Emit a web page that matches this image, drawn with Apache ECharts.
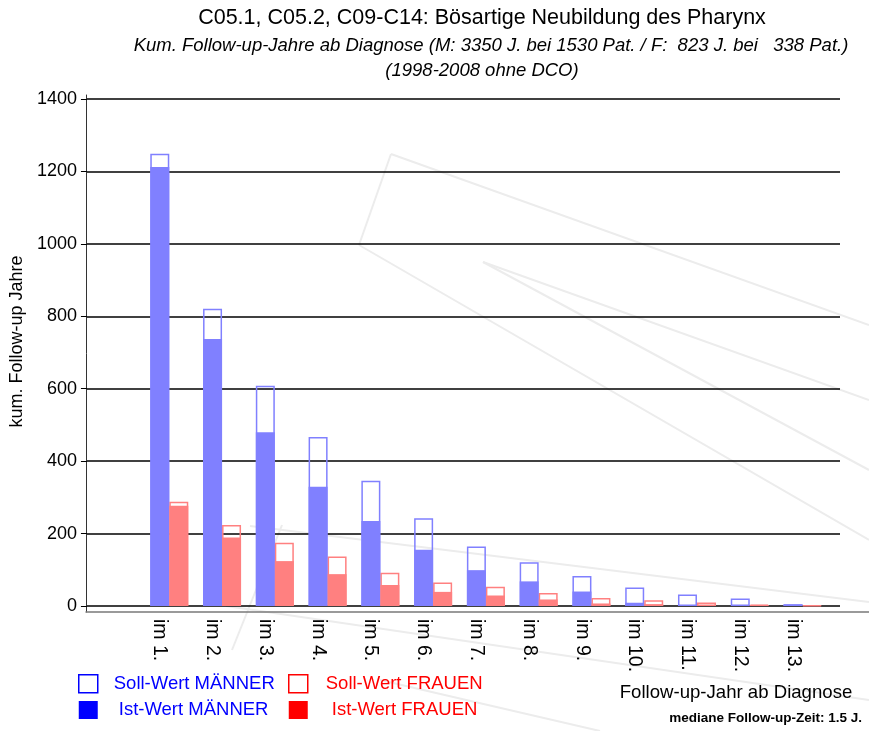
<!DOCTYPE html>
<html>
<head>
<meta charset="utf-8">
<script src="https://cdn.jsdelivr.net/npm/echarts@6/dist/echarts.min.js"></script>
<style>
html,body{margin:0;padding:0;background:#fff;}
#chart{width:869px;height:731px;}
</style>
</head>
<body>
<div id="chart"></div>
<script>
// ---- data ----
const categories = ['im 1.', 'im 2.', 'im 3.', 'im 4.', 'im 5.', 'im 6.', 'im 7.', 'im 8.', 'im 9.', 'im 10.', 'im 11.', 'im 12.', 'im 13.'];
const sollMaenner = [1249, 821, 608, 467, 346, 242, 164, 121, 83, 51, 32, 21, 5];
const istMaenner  = [1212, 737, 480, 329, 235, 155, 99, 68, 40, 9, 1, 0, 4];
const sollFrauen  = [288, 224, 175, 137, 92, 65, 53, 36, 22, 16, 10, 4, 2];
const istFrauen   = [277, 189, 124, 88, 58, 39, 29, 18, 7, 5, 1, 3, 1];
const yTicks = { min: 0, max: 1400, interval: 200 };

const titleText = 'C05.1, C05.2, C09-C14: Bösartige Neubildung des Pharynx';
const subText1 = 'Kum. Follow-up-Jahre ab Diagnose (M: 3350 J. bei 1530 Pat. / F:  823 J. bei   338 Pat.)';
const subText2 = '(1998-2008 ohne DCO)';
const xName = 'Follow-up-Jahr ab Diagnose';
const yName = 'kum. Follow-up Jahre';
const medianText = 'mediane Follow-up-Zeit: 1.5 J.';

const FONT = "'Liberation Sans', Arial, Helvetica, sans-serif";
const BLUE_L = '#8080ff', RED_L = '#ff8080';

const chart = echarts.init(document.getElementById('chart'), null, { renderer: 'canvas' });

const watermark = [
  [[391,154],[359,245]],
  [[391,154],[869,325]],
  [[359,245],[869,540]],
  [[483,262],[869,400]],
  [[483,262],[869,470]],
  [[250,526],[869,602]],
  [[282,525],[232,650]],
  [[226,606],[869,700]],
  [[380,680],[600,731]]
];

const hiddenY = (gi) => ({
  type: 'value', gridIndex: gi, min: yTicks.min, max: yTicks.max, interval: yTicks.interval,
  show: false
});
const hiddenX = (gi) => ({
  type: 'category', gridIndex: gi, data: categories, show: false
});

const option = {
  animation: false,
  backgroundColor: '#ffffff',
  textStyle: { fontFamily: FONT },
  grid: [
    { left: 86, right: 29, top: 99, bottom: 125 },          // gridlines + y labels
    { left: 86, right: 0, top: 95, bottom: 119 },           // axis frame lines
    { left: 133.4, right: 49.6, top: 99, bottom: 125 },     // men bars
    { left: 152.4, right: 30.6, top: 99, bottom: 125 }      // women bars
  ],
  xAxis: [
    { type: 'category', gridIndex: 0, data: categories, show: false },
    { type: 'value', gridIndex: 1, min: 0, max: 1, show: true,
      axisLine: { show: true, lineStyle: { color: '#7a7a7a', width: 1.5 } },
      axisTick: { show: false }, axisLabel: { show: false }, splitLine: { show: false } },
    { type: 'category', gridIndex: 2, data: categories,
      axisLine: { show: false }, axisTick: { show: false },
      axisLabel: { rotate: -90, margin: 13, fontSize: 19.5, color: '#000', fontFamily: FONT } },
    hiddenX(3)
  ],
  yAxis: [
    { type: 'value', gridIndex: 0, min: yTicks.min, max: yTicks.max, interval: yTicks.interval,
      axisLine: { show: false },
      axisTick: { show: true, length: 6, lineStyle: { color: '#000', width: 1 } },
      axisLabel: { fontSize: 18, color: '#000', margin: 10, fontFamily: FONT, formatter: (v) => String(v) },
      splitLine: { show: true, lineStyle: { color: '#000', width: 1.5 } },
      name: yName, nameLocation: 'middle', nameRotate: 90, nameGap: 55,
      nameTextStyle: { fontSize: 18, color: '#000', fontFamily: FONT, padding: [0, 0, 0, 22] } },
    { type: 'value', gridIndex: 1, min: 0, max: 1,
      axisLine: { show: true, lineStyle: { color: '#333', width: 1 } },
      axisTick: { show: false }, axisLabel: { show: false }, splitLine: { show: false } },
    hiddenY(2),
    hiddenY(3)
  ],
  legend: [
    { left: 78, top: 674, padding: 0, orient: 'vertical', itemWidth: 19, itemHeight: 18, itemGap: 7,
      icon: 'rect', selectedMode: false,
      data: [
        { name: 'Soll-Wert MÄNNER', itemStyle: { color: '#ffffff', borderColor: '#0000ff', borderWidth: 1.5 },
          textStyle: { color: '#0000ff', fontSize: 18.5, padding: [0, 0, 0, 11] } },
        { name: 'Ist-Wert MÄNNER', itemStyle: { color: '#0000ff', borderWidth: 0 },
          textStyle: { color: '#0000ff', fontSize: 18.5, padding: [0, 0, 0, 16] } }
      ] },
    { left: 288, top: 674, padding: 0, orient: 'vertical', itemWidth: 19, itemHeight: 18, itemGap: 7,
      icon: 'rect', selectedMode: false,
      data: [
        { name: 'Soll-Wert FRAUEN', itemStyle: { color: '#ffffff', borderColor: '#ff0000', borderWidth: 1.5 },
          textStyle: { color: '#ff0000', fontSize: 18.5, padding: [0, 0, 0, 13] } },
        { name: 'Ist-Wert FRAUEN', itemStyle: { color: '#ff0000', borderWidth: 0 },
          textStyle: { color: '#ff0000', fontSize: 18.5, padding: [0, 0, 0, 19] } }
      ] }
  ],
  series: [
    { name: 'Soll-Wert MÄNNER', type: 'bar', xAxisIndex: 2, yAxisIndex: 2, data: sollMaenner,
      barWidth: 19, barGap: '-100%', z: 3,
      itemStyle: { color: 'rgba(255,255,255,0)', borderColor: BLUE_L, borderWidth: 1.5 } },
    { name: 'Ist-Wert MÄNNER', type: 'bar', xAxisIndex: 2, yAxisIndex: 2, data: istMaenner,
      barWidth: 19, barGap: '-100%', z: 4,
      itemStyle: { color: BLUE_L } },
    { name: 'Soll-Wert FRAUEN', type: 'bar', xAxisIndex: 3, yAxisIndex: 3, data: sollFrauen,
      barWidth: 19, barGap: '-100%', z: 3,
      itemStyle: { color: 'rgba(255,255,255,0)', borderColor: RED_L, borderWidth: 1.5 } },
    { name: 'Ist-Wert FRAUEN', type: 'bar', xAxisIndex: 3, yAxisIndex: 3, data: istFrauen,
      barWidth: 19, barGap: '-100%', z: 4,
      itemStyle: { color: RED_L } }
  ],
  graphic: [
    ...watermark.map(pts => ({
      type: 'polyline', silent: true, z: -10,
      shape: { points: pts },
      style: { stroke: '#ececec', lineWidth: 2, fill: null }
    })),
    { type: 'text', x: 482, y: 18, silent: true,
      style: { text: titleText, font: '21.5px ' + FONT, fill: '#000', textAlign: 'center', textVerticalAlign: 'middle' } },
    { type: 'text', x: 491, y: 46, silent: true,
      style: { text: subText1, font: 'italic 18.5px ' + FONT, fill: '#000', textAlign: 'center', textVerticalAlign: 'middle' } },
    { type: 'text', x: 482, y: 71, silent: true,
      style: { text: subText2, font: 'italic 18.5px ' + FONT, fill: '#000', textAlign: 'center', textVerticalAlign: 'middle' } },
    { type: 'text', x: 736, y: 693, silent: true,
      style: { text: xName, font: '18.6px ' + FONT, fill: '#000', textAlign: 'center', textVerticalAlign: 'middle' } },
    { type: 'text', x: 862, y: 718, silent: true,
      style: { text: medianText, font: 'bold 13.5px ' + FONT, fill: '#000', textAlign: 'right', textVerticalAlign: 'middle' } }
  ]
};

chart.setOption(option);
</script>
</body>
</html>
